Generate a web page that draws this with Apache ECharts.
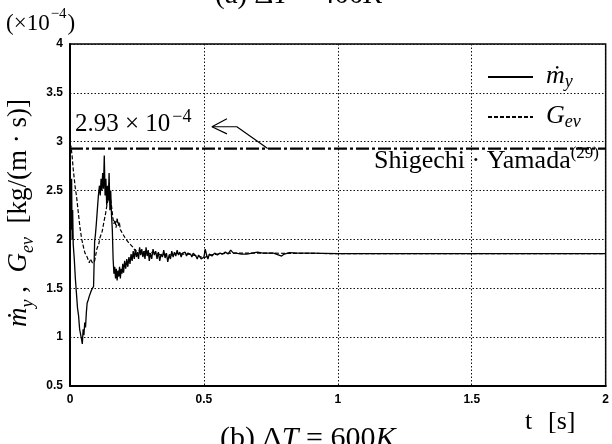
<!DOCTYPE html>
<html><head><meta charset="utf-8">
<script src="https://cdn.jsdelivr.net/npm/echarts@6/dist/echarts.min.js"></script>
<style>html,body{margin:0;padding:0;background:#fff}#c{width:612px;height:444px}</style>
</head><body><div id="c"></div>
<script>
// ---- data (units of 1e-4 kg/(m s)) ----
const mdotT = [0.000,0.002,0.004,0.006,0.008,0.010,0.012,0.016,0.020,0.024,0.028,0.032,0.036,0.040,0.043,0.046,0.049,0.052,0.055,0.058,0.061,0.064,0.068,0.072,0.076,0.080,0.084,0.088,0.090,0.092,0.095,0.098,0.102,0.106,0.110,0.113,0.116,0.119,0.122,0.125,0.128,0.131,0.134,0.137,0.140,0.143,0.146,0.149,0.152,0.155,0.158,0.161,0.164,0.167,0.170,0.173,0.176,0.179,0.182,0.185,0.188,0.191,0.194,0.197,0.200,0.204,0.208,0.212,0.216,0.220,0.224,0.228,0.232,0.236,0.240,0.244,0.248,0.252,0.256,0.260,0.264,0.268,0.272,0.276,0.280,0.284,0.288,0.292,0.296,0.300,0.305,0.310,0.315,0.320,0.325,0.330,0.335,0.340,0.345,0.350,0.355,0.360,0.365,0.370,0.375,0.380,0.385,0.390,0.395,0.400,0.405,0.410,0.415,0.420,0.425,0.430,0.435,0.440,0.445,0.450,0.455,0.460,0.465,0.470,0.475,0.480,0.485,0.490,0.495,0.500,0.505,0.510,0.515,0.520,0.530,0.540,0.550,0.560,0.570,0.580,0.590,0.600,0.610,0.620,0.640,0.660,0.680,0.700,0.720,0.740,0.760,0.780,0.790,0.800,0.820,0.850,0.900,1.000,2.000];
const mdotV = [2.00,2.55,2.10,2.62,2.00,2.30,1.95,1.80,1.60,1.45,1.30,1.22,1.08,1.10,0.98,0.93,1.08,1.02,1.15,1.10,1.25,1.35,1.38,1.42,1.45,1.48,1.50,1.52,1.75,1.98,2.05,2.15,2.30,2.45,2.55,2.45,2.62,2.50,2.68,2.52,2.86,2.45,2.62,2.35,2.55,2.40,2.68,2.30,2.50,2.25,2.10,1.80,1.65,1.72,1.60,1.70,1.58,1.68,1.62,1.72,1.60,1.70,1.65,1.75,1.66,1.78,1.70,1.80,1.72,1.82,1.75,1.85,1.78,1.88,1.80,1.90,1.82,1.87,1.80,1.92,1.84,1.90,1.82,1.88,1.80,1.92,1.83,1.89,1.78,1.86,1.80,1.90,1.84,1.88,1.80,1.87,1.78,1.85,1.82,1.89,1.81,1.86,1.77,1.84,1.80,1.88,1.82,1.87,1.83,1.89,1.84,1.87,1.82,1.86,1.84,1.87,1.83,1.86,1.84,1.85,1.82,1.86,1.84,1.83,1.80,1.84,1.82,1.80,1.78,1.82,1.90,1.84,1.80,1.85,1.83,1.86,1.84,1.86,1.85,1.87,1.85,1.89,1.86,1.86,1.85,1.85,1.86,1.87,1.86,1.86,1.86,1.84,1.83,1.85,1.865,1.86,1.86,1.855,1.855];
const gevT = [0.000,0.004,0.008,0.012,0.016,0.020,0.024,0.028,0.032,0.036,0.040,0.044,0.048,0.052,0.056,0.060,0.064,0.068,0.072,0.076,0.080,0.084,0.088,0.092,0.096,0.100,0.104,0.108,0.112,0.116,0.120,0.124,0.128,0.132,0.136,0.140,0.144,0.148,0.152,0.156,0.160,0.164,0.168,0.172,0.176,0.180,0.184,0.188,0.192,0.196,0.200,0.205,0.210,0.215,0.220,0.225,0.230,0.235,0.240,0.245,0.250,0.260,0.270,0.280,0.290,0.300,0.320,0.340,0.360,0.380,0.400,0.420,0.440,0.460,0.480,0.500,0.520,0.550,0.600,0.700,1.000,2.000];
const gevV = [2.98,2.95,2.85,2.72,2.62,2.52,2.45,2.35,2.25,2.15,2.07,2.00,1.95,1.90,1.86,1.85,1.82,1.80,1.76,1.80,1.78,1.76,1.74,1.78,1.84,1.90,1.88,1.96,2.02,2.00,2.08,2.14,2.20,2.25,2.32,2.38,2.42,2.45,2.40,2.32,2.22,2.16,2.20,2.12,2.22,2.14,2.18,2.10,2.12,2.06,2.08,2.02,2.04,1.98,2.00,1.95,1.97,1.92,1.90,1.88,1.86,1.89,1.86,1.88,1.84,1.87,1.86,1.84,1.85,1.84,1.86,1.85,1.85,1.84,1.83,1.81,1.84,1.85,1.86,1.86,1.855,1.855];
const refValue = 2.93;               // Shigechi-Yamada value
const refT = [0, 2];
const arrowT = [0.738, 0.623, 0.53];
const arrowV = [2.93, 3.153, 3.153];
const arrowHeadT = [0.586, 0.53, 0.586];
const arrowHeadV = [3.235, 3.153, 3.08];
const xTickLabels = ['0', '0.5', '1', '1.5', '2'];
const yTickLabels = ['0.5', '1', '1.5', '2', '2.5', '3', '3.5', '4'];

const pairs = (a, b) => a.map((t, i) => [t, b[i]]);
const serif = 'Liberation Serif';
const chart = echarts.init(document.getElementById('c'), null, {renderer: 'canvas'});

chart.setOption({
  animation: false,
  backgroundColor: '#fff',
  grid: {left: 70, right: 5, top: 44, bottom: 58, show: true, borderColor: '#000', borderWidth: 1.5},
  xAxis: {
    type: 'value', min: 0, max: 2, interval: 0.5,
    axisLine: {show: true, onZero: false, lineStyle: {color: '#000', width: 2}},
    axisTick: {show: false},
    axisLabel: {color: '#000', fontFamily: 'Liberation Sans', fontWeight: 'bold', fontSize: 12, margin: 8,
      formatter: v => xTickLabels[Math.round(v / 0.5)]},
    splitLine: {show: true, lineStyle: {color: '#111', type: [1.5, 2], width: 1}}
  },
  yAxis: {
    type: 'value', min: 0.5, max: 4, interval: 0.5,
    axisLine: {show: true, onZero: false, lineStyle: {color: '#000', width: 2}},
    axisTick: {show: false},
    axisLabel: {color: '#000', fontFamily: 'Liberation Sans', fontWeight: 'bold', fontSize: 12, margin: 7,
      formatter: v => yTickLabels[Math.round((v - 0.5) / 0.5)]},
    splitLine: {show: true, lineStyle: {color: '#111', type: [1.5, 2], width: 1}}
  },
  legend: {
    left: 487, top: 63, orient: 'vertical', itemWidth: 45, itemHeight: 12, itemGap: 12, padding: 0,
    data: ['m_y', 'G_ev'],
    itemStyle: {opacity: 0},
    formatter: n => n === 'm_y' ? '{m|ṁ}{s|y}' : '{m|G}{s|ev}',
    textStyle: {rich: {
      m: {fontFamily: serif, fontStyle: 'italic', fontSize: 26, color: '#000', verticalAlign: 'top', lineHeight: 28, padding: [0, 0, 0, 8]},
      s: {fontFamily: serif, fontStyle: 'italic', fontSize: 18, color: '#000', verticalAlign: 'bottom', lineHeight: 28}
    }}
  },
  series: [
    {name: 'm_y', type: 'line', data: pairs(mdotT, mdotV), symbol: 'none', lineStyle: {color: '#000', width: 1.3}, itemStyle: {color: '#000'}, z: 5},
    {name: 'G_ev', type: 'line', data: pairs(gevT, gevV), symbol: 'none', lineStyle: {color: '#000', width: 1.2, type: [4, 2]}, itemStyle: {color: '#000'}, z: 4},
    {name: 'ref', type: 'line', data: refT.map(t => [t, refValue]), symbol: 'none', lineStyle: {color: '#000', width: 2.2, type: [13, 3, 3, 3]}, z: 3},
    {name: 'arrow', type: 'line', data: pairs(arrowT, arrowV), symbol: 'none', lineStyle: {color: '#000', width: 1.2}, z: 6},
    {name: 'arrowHead', type: 'line', data: pairs(arrowHeadT, arrowHeadV), symbol: 'none', lineStyle: {color: '#000', width: 1.2}, z: 6}
  ],
  graphic: [
    {type: 'text', left: 215, top: -19, style: {text: '(a) Δ{i|T} = 400{i|K}', fontFamily: serif, fontSize: 29, fill: '#000',
      rich: {i: {fontFamily: serif, fontStyle: 'italic', fontSize: 29}}}},
    {type: 'text', left: 220, top: 424, style: {text: '(b) Δ{i|T} = 600{i|K}', fontFamily: serif, fontSize: 30, fill: '#000',
      rich: {i: {fontFamily: serif, fontStyle: 'italic', fontSize: 30}}}},
    {type: 'text', left: 6, top: 7, style: {text: '{n|(×10}{u|−4}{n|)}', fill: '#000',
      rich: {n: {fontFamily: serif, fontSize: 23, lineHeight: 28, verticalAlign: 'bottom'},
             u: {fontFamily: serif, fontSize: 15, lineHeight: 28, verticalAlign: 'top', padding: [0, 1, 0, 1]}}}},
    {type: 'text', left: 75, top: 108, style: {text: '{n|2.93 × 10}{u|−4}', fill: '#000',
      rich: {n: {fontFamily: serif, fontSize: 25, lineHeight: 29, verticalAlign: 'bottom'},
             u: {fontFamily: serif, fontSize: 18, lineHeight: 29, verticalAlign: 'top', padding: [0, 0, 0, 2]}}}},
    {type: 'text', right: 13, top: 145, style: {text: '{n|Shigechi · Yamada}{u|(29)}', fill: '#000',
      rich: {n: {fontFamily: serif, fontSize: 26, lineHeight: 29, verticalAlign: 'bottom'},
             u: {fontFamily: serif, fontSize: 17, lineHeight: 29, verticalAlign: 'top'}}}},
    {type: 'text', left: 525, top: 409, style: {text: 't', fontFamily: serif, fontSize: 26, fill: '#000'}},
    {type: 'text', left: 548, top: 409, style: {text: '[s]', fontFamily: serif, fontSize: 26, fill: '#000'}},
    {type: 'text', x: 21, y: 213, rotation: Math.PI / 2,
      style: {text: '{m|ṁ}{s|y}{n| ,  }{m|G}{s|ev}{n|  [kg/(m · s)]}', fill: '#000', align: 'center', verticalAlign: 'middle',
        rich: {m: {fontFamily: serif, fontStyle: 'italic', fontSize: 27, lineHeight: 32, verticalAlign: 'top'},
               s: {fontFamily: serif, fontStyle: 'italic', fontSize: 18, lineHeight: 32, verticalAlign: 'bottom'},
               n: {fontFamily: serif, fontSize: 27, lineHeight: 32, verticalAlign: 'top'}}}}
  ]
});
</script></body></html>
